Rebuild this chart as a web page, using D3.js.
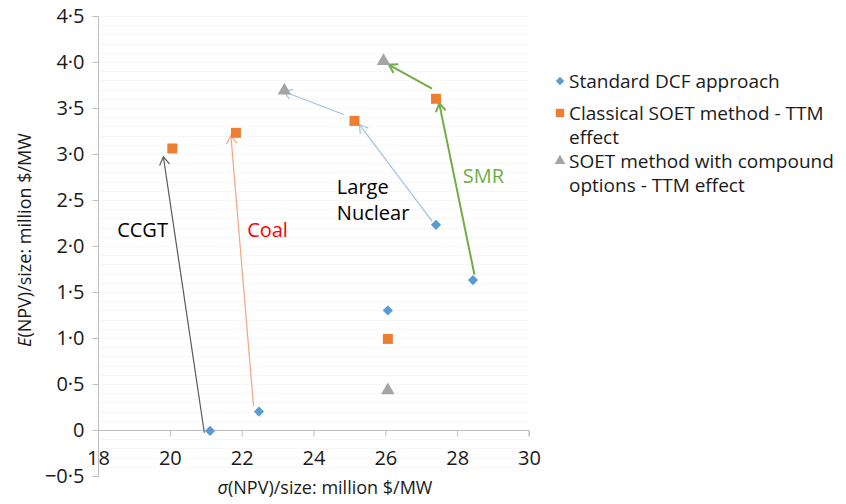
<!DOCTYPE html>
<html lang="en">
<head>
<meta charset="UTF-8">
<title>E(NPV) vs sigma(NPV)</title>
<style>
  body { margin: 0; padding: 0; background: #fff; }
  svg { display: block; font-family: "Open Sans", sans-serif; }
</style>
</head>
<body>
<svg width="846" height="504"></svg>
<script src="https://d3js.org/d3.v7.min.js"></script>
<script>
// data: [sigma, E]
const dcfPoints = [[21.12, -0.01], [22.48, 0.2], [27.41, 2.23], [28.44, 1.63], [26.07, 1.3]];
const classicalPoints = [[20.07, 3.06], [21.84, 3.23], [25.14, 3.36], [27.41, 3.6], [26.07, 0.99]];
const compoundPoints = [[23.19, 3.69], [25.95, 4.01], [26.07, 0.43]];

// arrows: from -> to
const arrows = [
  { from: [20.96, -0.03], to: [19.82, 2.97], color: "#595959", w: 1.2 },
  { from: [22.33, 0.26], to: [21.7, 3.2], color: "#f4a582", w: 1.2 },
  { from: [27.3, 2.27], to: [25.28, 3.32], color: "#9dc3e6", w: 1.2 },
  { from: [24.84, 3.43], to: [23.17, 3.68], color: "#9dc3e6", w: 1.2 },
  { from: [28.48, 1.69], to: [27.5, 3.55], color: "#70ad47", w: 2 },
  { from: [27.3, 3.71], to: [26.1, 3.97], color: "#70ad47", w: 2 }
];

const labels = [
  { text: ["CCGT"], at: [19.24, 2.1], color: "#000" },
  { text: ["Coal"], at: [22.72, 2.1], color: "#ff0000" },
  { text: ["Large", "Nuclear"], at: [24.65, 2.56], color: "#000" },
  { text: ["SMR"], at: [28.73, 2.68], color: "#70ad47" }
];

const xTicks = [18, 20, 22, 24, 26, 28, 30];
const yTicks = [-0.5, 0, 0.5, 1, 1.5, 2, 2.5, 3, 3.5, 4, 4.5];

const legendItems = [
  { lines: ["Standard DCF approach"], shape: "diamond", color: "#5b9bd5" },
  { lines: ["Classical SOET method - TTM", "effect"], shape: "square", color: "#ed7d31" },
  { lines: ["SOET method with compound", "options - TTM effect"], shape: "triangle", color: "#a5a5a5" }
];

const svg = d3.select("svg");
const x = d3.scaleLinear().domain([18, 30]).range([98, 529]);
const y = d3.scaleLinear().domain([-0.5, 4.5]).range([476, 16]);
const axisColor = "#bfbfbf";
const textColor = "#1a1a1a";

// faint gridlines
svg.append("g").selectAll("line")
  .data(d3.range(-0.4, 4.51, 0.1))
  .join("line")
  .attr("x1", x(18)).attr("x2", x(30))
  .attr("y1", d => Math.round(y(d)) + 0.5).attr("y2", d => Math.round(y(d)) + 0.5)
  .attr("stroke", "#f7f7f7");

const fmt = d => d === 0 ? "0" : (d < 0 ? "\u22120\u00b75" : d3.format(".1f")(d).replace(".", "\u00b7"));

// y axis
const yAxis = svg.append("g")
  .attr("transform", `translate(${x(18) + 0.5},0)`)
  .call(d3.axisLeft(y).tickValues(yTicks).tickFormat(fmt).tickSize(6).tickPadding(8));
yAxis.select(".domain").attr("stroke", axisColor).attr("d", `M-6,${y(4.5) + 0.5}H0V${y(-0.5) + 0.5}H-6`);
yAxis.selectAll(".tick line").attr("stroke", axisColor);
yAxis.selectAll(".tick text").attr("font-size", 20).attr("fill", textColor).attr("font-family", "Open Sans");

// x axis crossing at 0
const xAxis = svg.append("g")
  .attr("transform", `translate(0,${Math.round(y(0)) + 0.5})`)
  .call(d3.axisBottom(x).tickValues(xTicks).tickFormat(d3.format("d")).tickSize(6).tickPadding(14));
xAxis.select(".domain").attr("stroke", axisColor).attr("d", `M${x(18)},0H${x(30)}V6`);
xAxis.selectAll(".tick line").attr("stroke", axisColor);
xAxis.selectAll(".tick text").attr("font-size", 20).attr("fill", textColor).attr("font-family", "Open Sans");

// axis titles
const yTitle = svg.append("text")
  .attr("transform", "translate(31,240) rotate(-90)")
  .attr("text-anchor", "middle").attr("font-size", 18).attr("fill", textColor);
yTitle.append("tspan").attr("font-style", "italic").text("E");
yTitle.append("tspan").text("(NPV)/size: million $/MW");

const xTitle = svg.append("text")
  .attr("x", 325).attr("y", 494)
  .attr("text-anchor", "middle").attr("font-size", 18).attr("fill", textColor);
xTitle.append("tspan").attr("font-style", "italic").text("\u03c3");
xTitle.append("tspan").text("(NPV)/size: million $/MW");

// arrow heads, open chevrons
const defs = svg.append("defs");
arrows.forEach((a, i) => {
  defs.append("marker")
    .attr("id", "arr" + i)
    .attr("viewBox", "-10 -6 12 12")
    .attr("refX", 0).attr("refY", 0)
    .attr("markerWidth", 12).attr("markerHeight", 12)
    .attr("markerUnits", "userSpaceOnUse")
    .attr("orient", "auto")
    .append("path")
    .attr("d", "M-8,-5L0,0L-8,5")
    .attr("fill", "none")
    .attr("stroke", a.color)
    .attr("stroke-width", a.w);
});

svg.append("g").selectAll("line")
  .data(arrows)
  .join("line")
  .attr("x1", d => x(d.from[0])).attr("y1", d => y(d.from[1]))
  .attr("x2", d => x(d.to[0])).attr("y2", d => y(d.to[1]))
  .attr("stroke", d => d.color)
  .attr("stroke-width", d => d.w)
  .attr("marker-end", (d, i) => `url(#arr${i})`);

// marker shapes (diamond = rotated square, like Excel)
function shapePath(shape, big) {
  if (shape === "diamond") return d3.symbol().type(d3.symbolSquare).size(big ? 52 : 36)();
  if (shape === "square") return d3.symbol().type(d3.symbolSquare).size(big ? 100 : 70)();
  return d3.symbol().type(d3.symbolTriangle).size(big ? 80 : 50)();
}
const rot = shape => shape === "diamond" ? " rotate(45)" : "";

const series = [
  { pts: dcfPoints, shape: "diamond", color: "#5b9bd5" },
  { pts: classicalPoints, shape: "square", color: "#ed7d31" },
  { pts: compoundPoints, shape: "triangle", color: "#a5a5a5" }
];
series.forEach(s => {
  svg.append("g").selectAll("path")
    .data(s.pts)
    .join("path")
    .attr("transform", d => `translate(${x(d[0])},${y(d[1])})${rot(s.shape)}`)
    .attr("d", shapePath(s.shape, true))
    .attr("fill", s.color);
});

// text labels on the plot
labels.forEach(l => {
  const t = svg.append("text")
    .attr("x", x(l.at[0])).attr("y", y(l.at[1]))
    .attr("font-size", 20).attr("fill", l.color)
    .attr("text-anchor", l.text.length > 1 ? "start" : "middle");
  l.text.forEach((line, i) => {
    t.append("tspan").attr("x", x(l.at[0])).attr("dy", i === 0 ? 0 : 26).text(line);
  });
});

// legend
const legend = svg.append("g");
const baselines = [[88], [120, 144], [168, 192]];
legendItems.forEach((item, k) => {
  const b = baselines[k][0];
  legend.append("path")
    .attr("transform", `translate(560,${b - 7})${rot(item.shape)}`)
    .attr("d", shapePath(item.shape, false))
    .attr("fill", item.color);
  item.lines.forEach((line, i) => {
    legend.append("text")
      .attr("x", 569).attr("y", baselines[k][i])
      .attr("font-size", 19).attr("fill", textColor)
      .text(line);
  });
});
</script>
</body>
</html>
